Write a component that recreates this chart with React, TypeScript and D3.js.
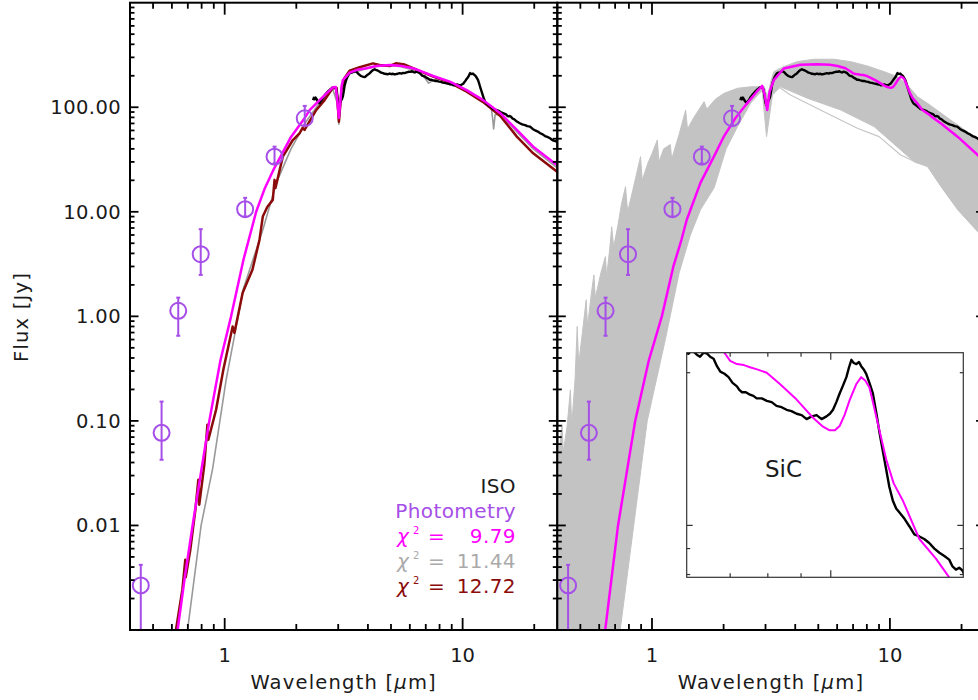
import React from 'react';
import * as d3 from 'd3';

type Pt = [number, number];

// ISO spectrum (wavelength in micron, flux in Jy)
const isoSpectrum: Pt[] = [
  [2.35, 117], [2.37, 123], [2.39, 119], [2.41, 124], [2.43, 120], [2.45, 116], [2.47, 113], [2.49, 111],
  [2.505, 109], [2.53, 114], [2.56, 118], [2.59, 124], [2.62, 128], [2.65, 133], [2.674, 136], [2.71, 141],
  [2.74, 144], [2.77, 148], [2.8, 150], [2.83, 154], [2.85, 155], [2.88, 156], [2.9, 154], [2.92, 152],
  [2.94, 148], [2.96, 136], [2.98, 122], [3.0, 110], [3.02, 105], [3.04, 108], [3.06, 112], [3.08, 115],
  [3.1, 118], [3.12, 122], [3.14, 128], [3.17, 145], [3.19, 160], [3.22, 174], [3.24, 182], [3.27, 192],
  [3.3, 200], [3.33, 207], [3.35, 211], [3.4, 214], [3.45, 216], [3.49, 219], [3.52, 221], [3.55, 219],
  [3.58, 219], [3.61, 214], [3.64, 210], [3.67, 206], [3.69, 204], [3.74, 199], [3.78, 197], [3.83, 195],
  [3.88, 194], [3.92, 198], [3.97, 203], [4.02, 207], [4.07, 211], [4.12, 218], [4.17, 224], [4.22, 228],
  [4.27, 231], [4.32, 228], [4.38, 225], [4.43, 222], [4.48, 219], [4.55, 214], [4.63, 212], [4.7, 209],
  [4.78, 208], [4.86, 207], [4.94, 210], [5.02, 207], [5.1, 209], [5.18, 206], [5.27, 208], [5.35, 210],
  [5.44, 212], [5.53, 210], [5.62, 213], [5.71, 212], [5.81, 215], [5.88, 217], [5.95, 219], [6.04, 218],
  [6.1, 221], [6.15, 220], [6.22, 217], [6.29, 215], [6.37, 219], [6.45, 218], [6.52, 215], [6.6, 213],
  [6.68, 206], [6.76, 201], [6.86, 199], [6.96, 196], [7.06, 191], [7.17, 188], [7.23, 185], [7.3, 183],
  [7.4, 183], [7.51, 181], [7.6, 180], [7.69, 178], [7.83, 178], [7.97, 176], [8.11, 175], [8.25, 172],
  [8.4, 171], [8.55, 169], [8.7, 168], [8.86, 166], [9.02, 165], [9.18, 162], [9.35, 164], [9.51, 165],
  [9.68, 162], [9.85, 164], [9.97, 166], [10.08, 169], [10.2, 175], [10.32, 182], [10.45, 189], [10.57, 196],
  [10.67, 205], [10.76, 212], [10.85, 209], [10.95, 208], [11.05, 210], [11.14, 206], [11.24, 203], [11.34, 199],
  [11.47, 191], [11.61, 182], [11.75, 167], [11.89, 152], [12.03, 140], [12.17, 129], [12.31, 119], [12.46, 112],
  [12.61, 108], [12.76, 106], [12.99, 103], [13.22, 99.5], [13.45, 96], [13.69, 95.1], [13.93, 94], [14.18, 92.3],
  [14.44, 90], [14.7, 88.3], [14.96, 87], [15.22, 85.6], [15.4, 83], [15.59, 81.8], [15.77, 82.5], [15.95, 81.5],
  [16.2, 78], [16.5, 76.5], [16.9, 73], [17.4, 70.3], [17.8, 68.5], [18.3, 67.5], [18.7, 66], [19.2, 65.3],
  [19.7, 62], [20.2, 60], [20.7, 58.5], [21.2, 56.4], [21.7, 55], [22.2, 53], [22.7, 52], [23.3, 50.5],
  [23.7, 49], [24.1, 48], [24.5, 47.5], [24.9, 46.9], [25.5, 46], [26, 45],
];

// left panel models
const fitBest: Pt[] = [
  [0.6, 0.0004], [0.634, 0.001], [0.68, 0.0032], [0.733, 0.01], [0.8, 0.035], [0.862, 0.1], [0.96, 0.38],
  [1.064, 1.0], [1.2, 3.5], [1.356, 10], [1.47, 16.5], [1.6, 25], [1.717, 33.7], [1.9, 52], [2.17, 79],
  [2.275, 94], [2.505, 117], [2.7, 138], [2.85, 155], [2.93, 156], [2.97, 120], [3.02, 79], [3.06, 110],
  [3.1, 160], [3.14, 182], [3.35, 214], [3.6, 228], [3.94, 236], [4.34, 248], [4.94, 254], [5.44, 250],
  [6.19, 236], [6.8, 218], [7.52, 199], [8.84, 176], [10.4, 146], [12.2, 117], [14.4, 87.7], [16.9, 60.7],
  [19.8, 42], [24.9, 28.1], [26, 26.5],
];

const fitGray: Pt[] = [
  [0.66, 0.0004], [0.698, 0.001], [0.796, 0.01], [0.89, 0.035], [1.014, 0.247], [1.2, 1.86], [1.446, 6.7],
  [1.65, 19], [1.9, 40], [2.2, 73], [2.5, 110], [2.85, 148], [2.97, 110], [3.02, 69], [3.08, 120], [3.14, 172],
  [3.35, 210], [3.94, 234], [4.34, 246], [4.94, 250], [5.44, 246], [6.19, 228], [6.6, 215], [7.0, 185],
  [7.2, 170], [7.5, 180], [8.0, 190], [8.84, 173], [10.4, 144], [12.2, 114], [13.2, 98], [13.4, 75],
  [13.5, 62], [13.7, 85], [14.4, 86], [16.9, 58], [19.8, 40], [24.9, 26.5], [26, 25],
];

const fitRed: Pt[] = [
  [0.6, 0.0004], [0.624, 0.001], [0.664, 0.00243], [0.683, 0.0047], [0.686, 0.0032], [0.717, 0.00586],
  [0.753, 0.0141], [0.775, 0.0274], [0.782, 0.0158], [0.821, 0.038], [0.846, 0.0918], [0.854, 0.066],
  [0.92, 0.1277], [0.987, 0.308], [1.08, 0.8], [1.099, 0.695], [1.19, 1.68], [1.308, 2.79], [1.4, 5.38],
  [1.446, 9.0], [1.51, 11.1], [1.593, 13.0], [1.62, 20.2], [1.635, 16.9], [1.755, 33.7], [1.934, 48.6],
  [2.063, 56.4], [2.125, 63.4], [2.166, 60.6], [2.427, 94.2], [2.63, 117], [2.843, 153], [2.954, 153],
  [3.02, 72.8], [3.1, 146], [3.19, 191], [3.35, 224], [3.69, 241], [4.2, 263], [4.48, 254], [4.94, 248],
  [5.24, 263], [5.71, 256], [6.19, 236], [7.52, 196], [8.84, 172], [10.4, 141], [12.2, 112], [14.4, 82.6],
  [16.9, 52.4], [19.8, 36.3], [24.96, 24.2], [26, 23],
];

// right panel: best fit with SiC feature
const fitSiC: Pt[] = [
  [0.6, 0.0004], [0.636, 0.001], [0.72, 0.01], [0.85, 0.1], [0.97, 0.38], [1.1, 1.0], [1.23, 3.0],
  [1.33, 5.4], [1.4, 8.4], [1.6, 19], [1.82, 33.7], [2.0, 52], [2.24, 78.5], [2.51, 109], [2.75, 140],
  [2.906, 160], [2.98, 130], [3.05, 94], [3.12, 140], [3.25, 182], [3.58, 235], [4.21, 255], [4.95, 258],
  [5.6, 255], [6.02, 248], [6.5, 236], [6.84, 220], [7.0, 211], [7.17, 208], [7.35, 207], [7.51, 205],
  [7.7, 203], [7.97, 200], [8.35, 190], [8.86, 177], [9.39, 163], [9.7, 157], [9.96, 154], [10.15, 154],
  [10.32, 157], [10.5, 165], [10.7, 177], [10.95, 190], [11.14, 196], [11.3, 193], [11.47, 187], [11.6, 176],
  [11.75, 164], [12.17, 135], [12.5, 121], [12.91, 112], [13.69, 94], [14.52, 86], [15.22, 79], [16.4, 70],
  [19.3, 52], [23.7, 34], [26, 30],
];

// envelope of the model grid
const gridUpper: Pt[] = [
  [0.4, 0.042], [0.41, 0.06], [0.419, 0.092], [0.424, 0.05], [0.44, 0.09], [0.454, 0.198], [0.46, 0.09],
  [0.475, 0.25], [0.485, 0.8], [0.492, 0.35], [0.51, 0.7], [0.529, 1.44], [0.536, 0.8], [0.555, 1.6],
  [0.57, 2.49], [0.578, 1.5], [0.61, 2.6], [0.637, 3.73], [0.645, 2.4], [0.665, 4.5], [0.677, 7.2],
  [0.69, 4.6], [0.72, 7.5], [0.745, 12], [0.774, 17.4], [0.79, 10], [0.83, 16], [0.865, 24], [0.895, 33.7],
  [0.91, 20], [0.96, 29], [1.0, 36], [1.053, 48.6], [1.07, 30], [1.12, 40], [1.194, 44], [1.21, 32],
  [1.3, 55], [1.385, 94], [1.41, 62], [1.5, 80], [1.656, 113], [1.7, 96], [1.85, 120], [2.01, 136],
  [2.29, 152], [2.6, 157], [2.97, 157], [3.05, 126], [3.17, 182], [3.25, 219], [3.58, 245], [4.08, 273],
  [4.79, 288], [5.82, 288], [6.84, 273], [8.05, 248], [9.45, 219], [10.76, 196], [11.86, 163], [13.06, 126],
  [14.39, 109], [17.5, 79], [21.2, 58], [23.7, 50], [26, 45],
];

const gridLower: Pt[] = [
  [0.4, 0.00001], [0.66, 0.0001], [0.735, 0.001], [0.955, 0.1], [1.138, 0.6], [1.3, 2.6], [1.45, 6.0],
  [1.6, 10.5], [1.825, 17], [2.05, 40], [2.287, 65], [2.6, 110], [2.906, 145], [3.03, 52.4], [3.21, 131],
  [3.47, 157], [4.5, 122], [6.21, 94.2], [8.58, 65.3], [11.1, 39.1], [12.6, 30.2], [14.4, 27], [16.4, 17.4],
  [19.3, 10.4], [23.7, 6.24], [26, 5.2],
];

const gridOutlier: Pt[] = [
  [3.4, 157], [3.82, 131], [5.28, 90.7], [6.21, 75.6], [7.3, 63], [9.0, 52.4], [11.1, 35], [13.06, 29.3],
  [15.3, 26.9],
];

// photometry
const photLam = [0.444, 0.543, 0.638, 0.793, 1.219, 1.62, 2.17];
const photFlux = [0.00267, 0.0769, 1.13, 3.93, 10.6, 33.7, 78.5];
const photHi = [0.0042, 0.153, 1.51, 6.82, 13.6, 42, 103];
const photLo = [0.0003, 0.0425, 0.652, 2.49, 9.0, 29, 67.7];

const yLabelValues = [0.01, 0.1, 1, 10, 100];
const xLabelValues = [1, 10];
const chiRows = [
  { value: '9.79', color: '#ff00ff' },
  { value: '11.44', color: '#aaaaaa' },
  { value: '12.72', color: '#8b0a0a' },
];

const PURPLE = '#a64ee8';
const TOP = 2.7;
const BOTTOM = 630;
const FONT = 'DejaVu Sans';

const y = d3.scaleLog().domain([0.001, 1000]).range([BOTTOM, TOP]);
const xLeft = d3.scaleLog().domain([0.4, 25]).range([130, 557.3]);
const xRight = d3.scaleLog().domain([0.4, 25]).range([557.3, 984.6]);
const xIn = d3.scaleLog().domain([6, 16]).range([686.7, 963.3]);
const yIn = d3.scaleLog().domain([79, 219]).range([577.3, 352.7]);

function logTicks(lo: number, hi: number) {
  const out: { v: number; major: boolean }[] = [];
  for (let e = Math.floor(Math.log10(lo)) - 1; e <= Math.ceil(Math.log10(hi)); e++) {
    for (let k = 1; k <= 9; k++) {
      const v = k * Math.pow(10, e);
      if (v > lo * 1.001 && v < hi * 0.999) out.push({ v, major: k === 1 });
    }
  }
  return out;
}

const mkLine = (xs: any, ys: any) =>
  d3.line<Pt>().x((d) => xs(d[0])).y((d) => ys(d[1]));

function Frame({ x }: { x: any }) {
  const [x0, x1] = x.range();
  return (
    <g stroke="#000" strokeWidth={1.8} fill="none">
      {logTicks(0.4, 25).map((t) => {
        const px = x(t.v);
        const len = t.major ? 12 : 6;
        return (
          <g key={'x' + t.v}>
            <line x1={px} x2={px} y1={BOTTOM} y2={BOTTOM - len} />
            <line x1={px} x2={px} y1={TOP} y2={TOP + len} />
          </g>
        );
      })}
      {logTicks(0.001, 1000).map((t) => {
        const py = y(t.v);
        const len = t.major ? 8.5 : 4.5;
        return (
          <g key={'y' + t.v}>
            <line x1={x0} x2={x0 + len} y1={py} y2={py} />
            <line x1={x1} x2={x1 - len} y1={py} y2={py} />
          </g>
        );
      })}
      <rect x={x0} y={TOP} width={x1 - x0} height={BOTTOM - TOP} strokeWidth={2} />
    </g>
  );
}

function Photometry({ x }: { x: any }) {
  return (
    <g stroke={PURPLE} fill="none" strokeWidth={2}>
      {photLam.map((l, i) => {
        const px = x(l);
        const yh = y(photHi[i]);
        const yl = Math.min(y(photLo[i]), BOTTOM);
        return (
          <g key={i}>
            <line x1={px} x2={px} y1={yh} y2={yl} />
            <line x1={px - 2} x2={px + 2} y1={yh} y2={yh} />
            {yl < BOTTOM && <line x1={px - 2} x2={px + 2} y1={yl} y2={yl} />}
            <circle cx={px} cy={y(photFlux[i])} r={8} />
          </g>
        );
      })}
    </g>
  );
}

function XLabels({ x }: { x: any }) {
  const [x0, x1] = x.range();
  return (
    <g fontFamily={FONT} fill="#1a1a1a">
      {xLabelValues.map((v) => (
        <text key={v} x={x(v)} y={662} fontSize={19.5} textAnchor="middle">
          {String(v)}
        </text>
      ))}
      <text x={(x0 + x1) / 2} y={689} fontSize={19.5} textAnchor="middle" style={{ letterSpacing: '1.2px' }}>
        Wavelength [<tspan fontStyle="italic">μ</tspan>m]
      </text>
    </g>
  );
}

const App = () => {
  const lineL = mkLine(xLeft, y);
  const lineR = mkLine(xRight, y);
  const lineI = mkLine(xIn, yIn);
  const bandPath = (lineR([...gridUpper, ...[...gridLower].reverse()]) || '') + 'Z';
  const fmt = d3.format('.2f');

  return (
    <svg
      width={978}
      height={700}
      style={{ position: 'absolute', left: 0, top: 0, background: '#fff' }}
    >
      <defs>
        <clipPath id="clipL">
          <rect x={130} y={TOP} width={427.3} height={BOTTOM - TOP} />
        </clipPath>
        <clipPath id="clipR">
          <rect x={557.3} y={TOP} width={427.3} height={BOTTOM - TOP} />
        </clipPath>
        <clipPath id="clipI">
          <rect x={686.7} y={352.7} width={276.6} height={224.6} />
        </clipPath>
      </defs>

      {/* left panel */}
      <g clipPath="url(#clipL)" fill="none" strokeLinejoin="round">
        <path d={lineL(fitGray) || ''} stroke="#999999" strokeWidth={1.6} />
        <path d={lineL(fitRed) || ''} stroke="#8b0a0a" strokeWidth={2.5} />
        <path d={lineL(isoSpectrum) || ''} stroke="#000" strokeWidth={2.4} />
        <path d={lineL(fitBest) || ''} stroke="#ff00ff" strokeWidth={2.5} />
      </g>
      <Photometry x={xLeft} />
      <Frame x={xLeft} />

      <g fontFamily={FONT} fontSize={19.5} fill="#1a1a1a" textAnchor="end" style={{ letterSpacing: '0.4px' }}>
        {yLabelValues.map((v) => (
          <text key={v} x={121} y={y(v) + 7}>
            {fmt(v)}
          </text>
        ))}
      </g>
      <text
        transform={`translate(28,317) rotate(-90)`}
        fontFamily={FONT}
        fontSize={19.5}
        fill="#1a1a1a"
        textAnchor="middle"
        style={{ letterSpacing: '1.2px' }}
      >
        Flux [Jy]
      </text>
      <XLabels x={xLeft} />

      {/* legend */}
      <g fontFamily={FONT} fontSize={20} style={{ letterSpacing: '0.4px' }}>
        <text x={516} y={493} textAnchor="end" fill="#1a1a1a">ISO</text>
        <text x={516} y={518} textAnchor="end" fill={PURPLE}>Photometry</text>
        {chiRows.map((r, i) => {
          const by = 543 + i * 25;
          return (
            <g key={r.value} fill={r.color}>
              <text x={397} y={by} fontStyle="italic">χ</text>
              <text x={413} y={by - 9} fontSize={10}>2</text>
              <text x={428} y={by}>=</text>
              <text x={516} y={by} textAnchor="end">{r.value}</text>
            </g>
          );
        })}
      </g>

      {/* right panel */}
      <g clipPath="url(#clipR)" strokeLinejoin="round">
        <path d={bandPath} fill="#c3c3c3" stroke="#c3c3c3" strokeWidth={1} />
        <path d={lineR(gridOutlier) || ''} fill="none" stroke="#c6c6c6" strokeWidth={1.2} />
        <path d={lineR(isoSpectrum) || ''} fill="none" stroke="#000" strokeWidth={2.4} />
        <path d={lineR(fitSiC) || ''} fill="none" stroke="#ff00ff" strokeWidth={2.5} />
      </g>
      <Photometry x={xRight} />

      {/* inset */}
      <rect x={686.7} y={352.7} width={276.6} height={224.6} fill="#fff" />
      <g clipPath="url(#clipI)" fill="none" strokeLinejoin="round">
        <path d={lineI(isoSpectrum) || ''} stroke="#000" strokeWidth={2.4} />
        <path d={lineI(fitSiC) || ''} stroke="#ff00ff" strokeWidth={2} />
      </g>
      <g stroke="#333" strokeWidth={1.2} fill="none">
        {logTicks(6, 16).map((t) => {
          const px = xIn(t.v);
          const len = t.major ? 7 : 4;
          return (
            <g key={'ix' + t.v}>
              <line x1={px} x2={px} y1={577.3} y2={577.3 - len} />
              <line x1={px} x2={px} y1={352.7} y2={352.7 + len} />
            </g>
          );
        })}
        {logTicks(79, 219).map((t) => {
          const py = yIn(t.v);
          const len = t.major ? 6 : 3.5;
          return (
            <g key={'iy' + t.v}>
              <line x1={686.7} x2={686.7 + len} y1={py} y2={py} />
              <line x1={963.3} x2={963.3 - len} y1={py} y2={py} />
            </g>
          );
        })}
        <rect x={686.7} y={352.7} width={276.6} height={224.6} />
      </g>
      <text x={765} y={477} fontFamily={FONT} fontSize={23} fill="#1a1a1a">SiC</text>

      <Frame x={xRight} />
      <XLabels x={xRight} />
    </svg>
  );
};

export default App;
